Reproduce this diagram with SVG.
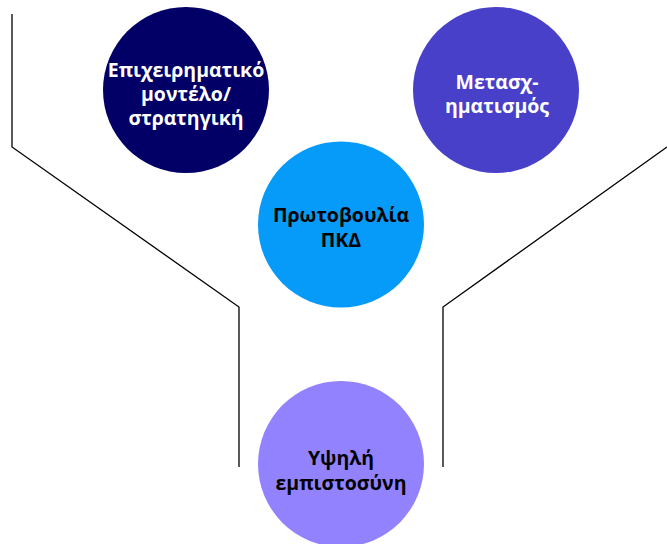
<svg xmlns="http://www.w3.org/2000/svg" width="667" height="544" viewBox="0 0 667 544">
<style>
.conn{fill:none;stroke:#000;stroke-width:1.3}
.lbl{font-family:"Open Sans","Noto Sans","DejaVu Sans",sans-serif;font-weight:700;font-size:19.5px;text-anchor:middle}
.w{fill:#fff}
.k{fill:#000}
</style>
<rect width="667" height="544" fill="#fff"/>
<g id="connectors">
<polyline class="conn" points="12,14 12,147 239,307 239,467"/>
<polyline class="conn" points="667,147 443,307 443,467"/>
</g>
<g id="node-business">
<circle cx="186" cy="90" r="83" fill="#020066"/>
<text class="lbl w" x="186" y="77">Επιχειρηματικό</text>
<text class="lbl w" x="186" y="101">μοντέλο/</text>
<text class="lbl w" x="186" y="125">στρατηγική</text>
</g>
<g id="node-transform">
<circle cx="496" cy="90" r="83" fill="#4840C9"/>
<text class="lbl w" x="497" y="89">Μετασχ-</text>
<text class="lbl w" x="497" y="113">ηματισμός</text>
</g>
<g id="node-initiative">
<circle cx="341" cy="224.5" r="83" fill="#069AF9"/>
<text class="lbl k" x="341" y="222">Πρωτοβουλία</text>
<text class="lbl k" x="341" y="247">ΠΚΔ</text>
</g>
<g id="node-trust">
<circle cx="341" cy="464" r="83" fill="#9382FE"/>
<text class="lbl k" x="341" y="465">Υψηλή</text>
<text class="lbl k" x="341" y="490">εμπιστοσύνη</text>
</g>
</svg>
